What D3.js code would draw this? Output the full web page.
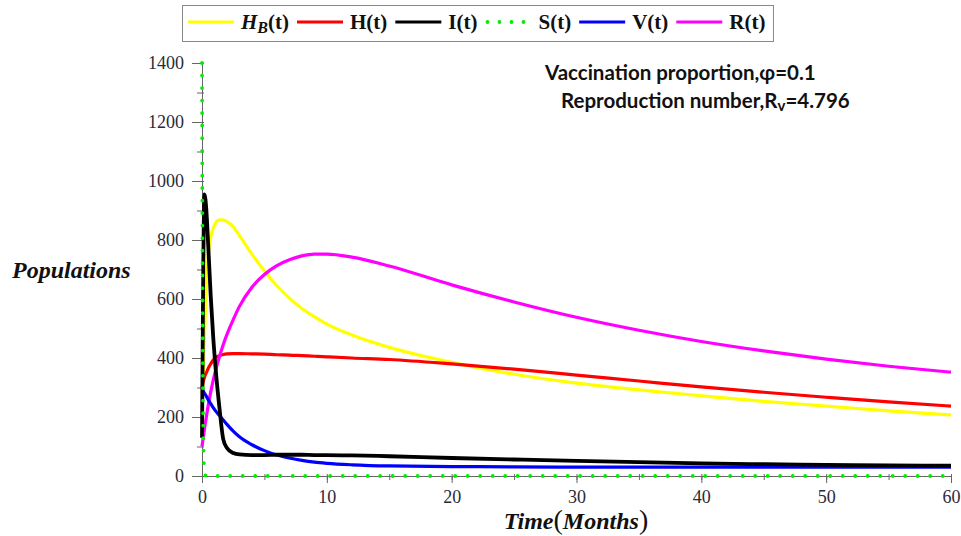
<!DOCTYPE html>
<html lang="en">
<head>
	<meta charset="UTF-8">
	<title>Populations over time</title>
	<script src="https://cdn.jsdelivr.net/npm/d3@7/dist/d3.min.js"></script>
	<style>
		body { margin: 0; background: white; }
		svg { display: block; }
		.tick text { font-family: "Liberation Serif", "Times New Roman", serif; font-size: 18px; fill: #2a2a3a; }
		.axis path, .axis line { stroke: #666; }
	</style>
</head>
<body>
	<div id="vis"></div>

	<script>
		var width = 961;
		var height = 536;

		// time points (months), denser near 0 where the spike happens
		var times = [0, 0.1, 0.2, 0.35, 0.5, 0.7, 0.9, 1.1, 1.4, 1.7, 2, 2.5, 3, 4, 5, 6, 7, 8, 9, 10, 12, 15, 20, 25, 30, 35, 40, 45, 50, 55, 60];

		var hbValues = [280, 330, 480, 650, 750, 810, 840, 858, 868, 868, 862, 845, 815, 752, 695, 645, 603, 568, 540, 515, 478, 436, 385, 345, 315, 292, 272, 253, 237, 221, 207];
		var hValues = [300, 320, 335, 350, 365, 380, 393, 402, 408, 412, 414, 415, 415, 414, 413, 411, 410, 408, 406, 404, 400, 395, 380, 362, 342, 322, 302, 284, 267, 251, 237];
		var iValues = [130, 700, 955, 900, 780, 610, 470, 360, 230, 125, 95, 78, 73, 71, 71, 72, 72, 72, 71, 71, 70, 67, 61, 56, 51, 47, 43, 40, 38, 36, 35];
		var sValues = [1400, 150, 10, 0, 0, 0, 0, 0, 0, 0, 0, 0, 0, 0, 0, 0, 0, 0, 0, 0, 0, 0, 0, 0, 0, 0, 0, 0, 0, 0, 0];
		var vValues = [295, 288, 280, 270, 258, 245, 232, 220, 205, 190, 175, 152, 133, 106, 86, 71, 61, 53, 47, 43, 38, 34, 32, 31, 30, 30, 30, 30, 30, 30, 30];
		var rValues = [100, 130, 160, 200, 240, 285, 325, 360, 405, 445, 480, 530, 575, 640, 683, 713, 733, 746, 752, 752, 742, 712, 648, 590, 538, 494, 456, 424, 396, 372, 352];

		var xTicks = [0, 10, 20, 30, 40, 50, 60];
		var yTicks = [0, 200, 400, 600, 800, 1000, 1200, 1400];

		var series = [
			{ name: "HB", label: "H", sub: "B", values: hbValues, color: "#ffff00", width: 3.2, dash: null },
			{ name: "H", label: "H(t)", values: hValues, color: "#ff0000", width: 3.2, dash: null },
			{ name: "I", label: "I(t)", values: iValues, color: "#000000", width: 3.8, dash: null },
			{ name: "S", label: "S(t)", values: sValues, color: "#00ee00", width: 3.8, dash: "0 12.5" },
			{ name: "V", label: "V(t)", values: vValues, color: "#0000ff", width: 3.2, dash: null },
			{ name: "R", label: "R(t)", values: rValues, color: "#ff00ff", width: 3.2, dash: null }
		];

		var svg = d3.select("#vis").append("svg")
				.attr("width", width)
				.attr("height", height);

		var x = d3.scaleLinear().domain([0, 60]).range([202, 951]);
		var y = d3.scaleLinear().domain([0, 1400]).range([476, 63]);

		// axes: minor ticks first, then majors with labels
		svg.append("g")
			.attr("class", "axis")
			.attr("transform", "translate(0," + (y(0) - 2) + ")")
			.call(d3.axisBottom(x).tickValues(d3.range(0, 61, 5)).tickSize(6).tickFormat(""))
			.call(g => g.select(".domain").remove());

		svg.append("g")
			.attr("class", "axis")
			.attr("transform", "translate(0," + y(0) + ")")
			.call(d3.axisBottom(x).tickValues(xTicks).tickSize(7).tickSizeOuter(0).tickPadding(7).tickFormat(d3.format("d")));

		svg.append("g")
			.attr("class", "axis")
			.attr("transform", "translate(" + (x(0) + 2) + ",0)")
			.call(d3.axisLeft(y).tickValues(d3.range(0, 1401, 100)).tickSize(7).tickFormat(""))
			.call(g => g.select(".domain").remove());

		svg.append("g")
			.attr("class", "axis")
			.attr("transform", "translate(" + x(0) + ",0)")
			.call(d3.axisLeft(y).tickValues(yTicks).tickSize(10).tickSizeOuter(0).tickPadding(8).tickFormat(d3.format("d")));

		// curves
		var line = d3.line()
				.x((d, i) => x(times[i]))
				.y(d => y(d))
				.curve(d3.curveMonotoneX);

		var drawOrder = ["HB", "H", "R", "V", "I", "S"];
		drawOrder.forEach(function(name) {
			var s = series.find(d => d.name === name);
			var path = svg.append("path")
				.datum(s.values)
				.attr("d", line)
				.attr("fill", "none")
				.attr("stroke", s.color)
				.attr("stroke-width", s.width)
				.attr("stroke-linejoin", "round");
			if (s.dash) {
				path.attr("stroke-dasharray", s.dash)
					.attr("stroke-linecap", "round");
			}
		});

		// legend
		var legend = svg.append("g");
		var legendBox = legend.append("rect")
			.attr("x", 182.5)
			.attr("y", 5.5)
			.attr("height", 36)
			.attr("fill", "white")
			.attr("stroke", "#888");

		var lx = 188;
		var ly = 22;
		series.forEach(function(s) {
			var seg = legend.append("line")
				.attr("x1", lx).attr("x2", lx + 46)
				.attr("y1", ly).attr("y2", ly)
				.attr("stroke", s.color)
				.attr("stroke-width", 3.2);
			if (s.dash) {
				seg.attr("stroke-dasharray", "0 12").attr("stroke-linecap", "round").attr("x1", lx + 2)
					.attr("stroke-width", 3.8);
			}
			lx += 53;
			var txt = legend.append("text")
				.attr("x", lx)
				.attr("y", ly + 7)
				.attr("font-family", "Liberation Serif, Times New Roman, serif")
				.attr("font-weight", "bold")
				.attr("font-size", 21)
				.attr("fill", "#111");
			if (s.sub) {
				txt.append("tspan").attr("font-style", "italic").text(s.label);
				txt.append("tspan").attr("font-style", "italic").attr("font-size", 16).attr("dy", 4).text(s.sub);
				txt.append("tspan").attr("dy", -4).text("(t)");
			} else {
				txt.text(s.label);
			}
			lx += txt.node().getComputedTextLength() + 8;
		});
		legendBox.attr("width", lx - 182.5);

		// annotation
		var note = svg.append("g")
			.attr("font-family", "Lato, Open Sans, sans-serif")
			.attr("font-weight", "bold")
			.attr("font-size", 20.5)
			.attr("fill", "#111");
		note.append("text").attr("x", 545).attr("y", 80).text("Vaccination proportion,\u03c6=0.1");
		var rv = note.append("text").attr("x", 561).attr("y", 108);
		rv.append("tspan").text("Reproduction number,R");
		rv.append("tspan").attr("font-size", 15).attr("dy", 3).text("v");
		rv.append("tspan").attr("dy", -3).text("=4.796");

		// axis titles
		svg.append("text")
			.attr("x", 12)
			.attr("y", 278)
			.attr("font-family", "Liberation Serif, Times New Roman, serif")
			.attr("font-weight", "bold")
			.attr("font-style", "italic")
			.attr("font-size", 24)
			.attr("fill", "#111")
			.text("Populations");

		var xt = svg.append("text")
			.attr("x", 576)
			.attr("y", 529)
			.attr("text-anchor", "middle")
			.attr("font-family", "Liberation Serif, Times New Roman, serif")
			.attr("font-weight", "bold")
			.attr("font-size", 24)
			.attr("fill", "#111");
		xt.append("tspan").attr("font-style", "italic").text("Time");
		xt.append("tspan").attr("font-weight", "normal").attr("font-size", 28).text("(");
		xt.append("tspan").attr("font-style", "italic").text("Months");
		xt.append("tspan").attr("font-weight", "normal").attr("font-size", 28).text(")");
	</script>
</body>
</html>
